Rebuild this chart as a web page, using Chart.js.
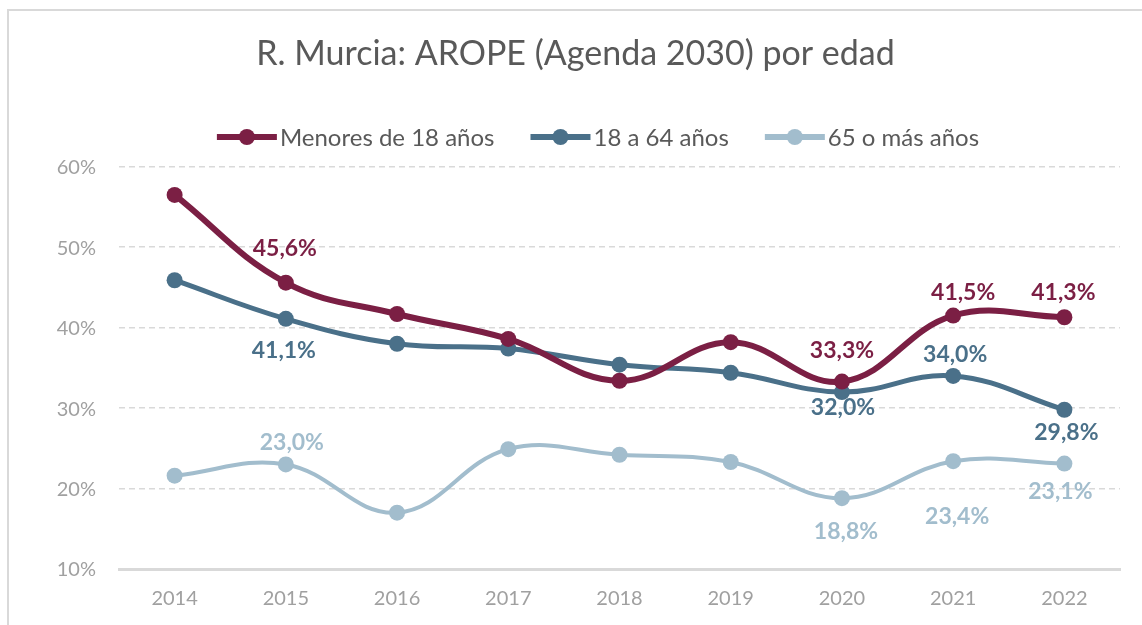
<!DOCTYPE html>
<html>
<head>
<meta charset="utf-8">
<title>R. Murcia: AROPE por edad</title>
<script src="https://cdn.jsdelivr.net/npm/chart.js@4/dist/chart.umd.min.js"></script>
<style>
  html, body { margin: 0; padding: 0; background: #fff; }
  #wrap { position: relative; width: 1142px; height: 625px; }
</style>
</head>
<body>
<div id="wrap"><canvas id="chart"></canvas></div>
<script>
  var YEARS = ['2014', '2015', '2016', '2017', '2018', '2019', '2020', '2021', '2022'];
  var MENORES = [56.5, 45.6, 41.7, 38.6, 33.4, 38.2, 33.3, 41.5, 41.3];
  var ADULTOS = [45.9, 41.1, 38.0, 37.4, 35.4, 34.4, 32.0, 34.0, 29.8];
  var MAYORES = [21.6, 23.0, 17.0, 24.9, 24.2, 23.3, 18.8, 23.4, 23.1];
  var SERIES_NAMES = ['Menores de 18 años', '18 a 64 años', '65 o más años'];
  var COLORS = ['#7b1f44', '#4a7089', '#a2bdcd'];

  // value labels: pixel nudge [dx, dy] from the point, null = no label (placed by hand in the original)
  var LBL_MENORES = [null, [-1, -34], null, null, null, null, [0, -31], [10, -23], [-1, -25]];
  var LBL_ADULTOS = [null, [-2, 32], null, null, null, null, [1, 16], [2, -21], [2, 23]];
  var LBL_MAYORES = [null, [6, -22], null, null, null, null, [4, 33], [4, 55], [-4, 28]];

  var FONT = 'Lato, "Open Sans", sans-serif';
  var TICK_GREY = '#a0a0a0';

  function pct(v) { return v.toFixed(1).replace('.', ',') + '%'; }

  // frame, y tick labels, legend and value labels
  var decor = {
    id: 'decor',
    beforeDraw: function (chart) {
      var c = chart.ctx;
      c.save();
      c.strokeStyle = '#d9d9d9';
      c.lineWidth = 2;
      c.beginPath();
      c.moveTo(8, 625); c.lineTo(8, 10); c.lineTo(1142, 10);
      c.stroke();
      c.restore();
    },
    afterDraw: function (chart) {
      var c = chart.ctx;
      c.save();
      // y tick labels, right-aligned just left of the plot
      var ys = chart.scales.y;
      c.font = '20px ' + FONT;
      c.fillStyle = TICK_GREY; c.textAlign = 'right'; c.textBaseline = 'middle';
      ys.ticks.forEach(function (t) {
        c.fillText(t.value + '%', chart.chartArea.left - 23, ys.getPixelForValue(t.value) + 1);
      });
      // legend
      c.font = '24px ' + FONT;
      var lineW = 60, gap = 36, y = 137;
      var widths = SERIES_NAMES.map(function (n) { return c.measureText(n).width; });
      var total = widths.reduce(function (a, b) { return a + b + lineW + 3; }, 0) + gap * 2;
      var x = 598 - total / 2;
      SERIES_NAMES.forEach(function (n, i) {
        c.strokeStyle = COLORS[i]; c.fillStyle = COLORS[i]; c.lineWidth = 6;
        c.beginPath(); c.moveTo(x, y); c.lineTo(x + lineW, y); c.stroke();
        c.beginPath(); c.arc(x + lineW / 2, y, 8, 0, Math.PI * 2); c.fill();
        c.fillStyle = '#595959'; c.textAlign = 'left'; c.textBaseline = 'middle';
        c.fillText(n, x + lineW + 3, y + 1);
        x += lineW + 3 + widths[i] + gap;
      });
      // value labels
      var nudges = [LBL_MENORES, LBL_ADULTOS, LBL_MAYORES];
      c.font = 'bold 23px ' + FONT;
      c.textAlign = 'center'; c.textBaseline = 'middle';
      chart.data.datasets.forEach(function (ds, di) {
        var meta = chart.getDatasetMeta(di);
        meta.data.forEach(function (pt, i) {
          var n = nudges[di][i];
          if (!n) return;
          c.fillStyle = COLORS[di];
          c.fillText(pct(ds.data[i]), pt.x + n[0], pt.y + n[1]);
        });
      });
      c.restore();
    }
  };

  function series(label, data, color, width) {
    return {
      label: label, data: data,
      borderColor: color, backgroundColor: color,
      borderWidth: width, pointRadius: 8, pointHoverRadius: 8,
      pointBackgroundColor: color, pointBorderWidth: 0,
      tension: 0.4, fill: false
    };
  }

  new Chart(document.getElementById('chart'), {
    type: 'line',
    data: {
      labels: YEARS,
      datasets: [
        series(SERIES_NAMES[0], MENORES, COLORS[0], 6),
        series(SERIES_NAMES[1], ADULTOS, COLORS[1], 5),
        series(SERIES_NAMES[2], MAYORES, COLORS[2], 4)
      ]
    },
    plugins: [decor],
    options: {
      responsive: true, maintainAspectRatio: false, animation: false,
      layout: { padding: { left: 31, right: 22, top: 0, bottom: 0 } },
      plugins: {
        legend: { display: false },
        tooltip: { enabled: false },
        title: {
          display: true, text: 'R. Murcia: AROPE (Agenda 2030) por edad',
          color: '#595959', font: { family: FONT, size: 34, weight: 'normal' },
          padding: { top: 34, bottom: 92 },
          fullSize: true
        }
      },
      scales: {
        x: {
          offset: true,
          afterFit: function (s) { s.height = 56; },
          grid: { display: false, drawTicks: false },
          border: { display: true, color: '#d9d9d9', width: 3 },
          ticks: { color: TICK_GREY, font: { family: FONT, size: 20 }, padding: 18 }
        },
        y: {
          min: 10, max: 60,
          afterFit: function (s) { s.width = 88; },
          grid: { color: '#d9d9d9', lineWidth: 1.5, drawTicks: false },
          border: { display: false, dash: [6, 4] },
          ticks: { stepSize: 10, display: false }
        }
      }
    }
  });
</script>
</body>
</html>
